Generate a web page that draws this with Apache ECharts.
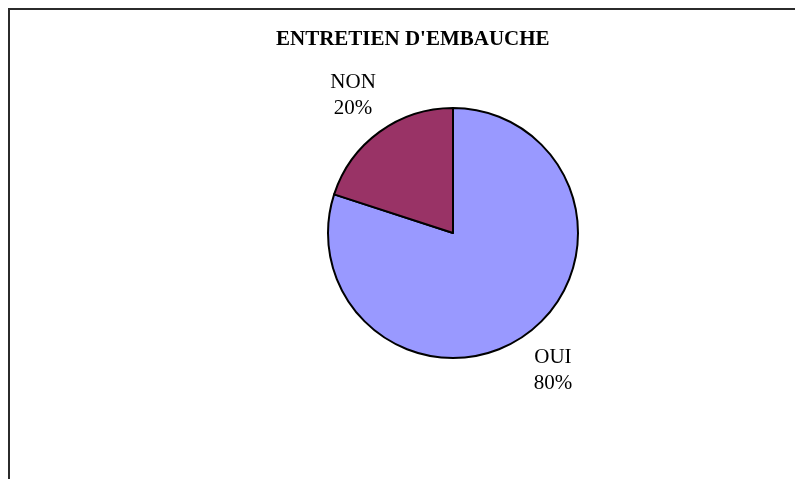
<!DOCTYPE html>
<html>
<head>
	<meta charset="UTF-8">
	<title>entretien d'embauche</title>
	<script src="https://cdn.jsdelivr.net/npm/echarts@6/dist/echarts.min.js"></script>
	<style>
		html, body { margin: 0; background: #fff; overflow: hidden; }
		#chart { position: absolute; left: 0; top: 0; width: 795px; height: 479px; }
		/* cadre du graphique (seulement haut et gauche visibles) */
		#frame { position: absolute; left: 8px; top: 8px; width: 900px; height: 600px;
			border-top: 2px solid #2b2b2b; border-left: 2px solid #2b2b2b; pointer-events: none; }
	</style>
</head>
<body>
<div id="chart"></div>
<div id="frame"></div>

<script type="text/javascript">
	// donnees
	var categories = ['OUI', 'NON'];
	var values = [80, 20];
	var colors = ['#9999FF', '#993366'];

	var pieData = [];
	for (var i = 0; i < categories.length; i++) {
		pieData.push({ name: categories[i], value: values[i], itemStyle: { color: colors[i] } });
	}

	var myChart = echarts.init(document.getElementById('chart'));
	var option = {
		animation: false,
		title: {
			text: "ENTRETIEN D'EMBAUCHE",
			left: 271,
			top: 24,
			textStyle: {
				fontFamily: '"Liberation Serif", "Times New Roman", serif',
				fontWeight: 'bold',
				fontSize: 21,
				color: '#000'
			}
		},
		series: [{
			type: 'pie',
			center: [453, 233],
			radius: 125,
			startAngle: 90,
			clockwise: true,
			avoidLabelOverlap: false,
			data: pieData,
			itemStyle: {
				borderColor: '#000',
				borderWidth: 2
			},
			label: {
				show: true,
				position: 'outside',
				formatter: '{b}\n{d}%',
				fontFamily: '"Liberation Serif", "Times New Roman", serif',
				fontSize: 21,
				lineHeight: 26,
				color: '#000',
				distanceToLabelLine: 0
			},
			labelLine: { show: false, length: 45, length2: 0 },
			labelLayout: function () {
				return { align: 'center' };
			},
			emphasis: { disabled: true }
		}]
	};
	myChart.setOption(option);
</script>
</body>
</html>
